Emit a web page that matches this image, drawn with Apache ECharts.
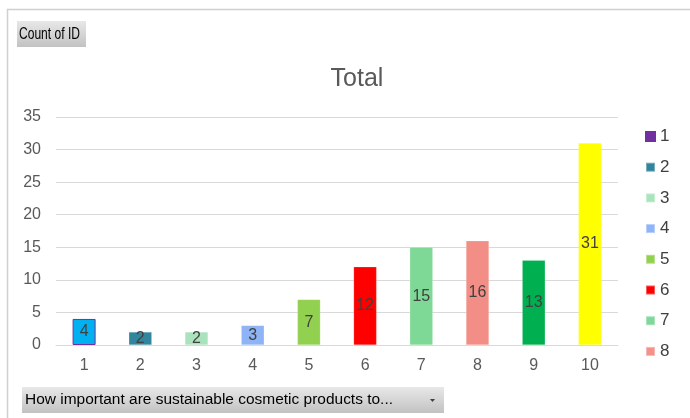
<!DOCTYPE html>
<html>
<head>
<meta charset="utf-8">
<script src="https://cdn.jsdelivr.net/npm/echarts@6/dist/echarts.min.js"></script>
<style>
  html, body { margin: 0; padding: 0; background: #ffffff; }
  #chart { width: 690px; height: 418px; }
</style>
</head>
<body>
<div id="chart"></div>
<script>
// Ratings 1-10 and how many responses gave each rating
const categories = ['1', '2', '3', '4', '5', '6', '7', '8', '9', '10'];
const counts = [4, 2, 2, 3, 7, 12, 15, 16, 13, 31];
const barColors = ['#00b0f0', '#31859c', '#a9e2bc', '#8eb4f5', '#92d050', '#ff0000', '#7ed896', '#f28e86', '#00b050', '#ffff00'];
const legendNames = ['1', '2', '3', '4', '5', '6', '7', '8'];
const legendColors = ['#7030a0', '#31849b', '#a9e4bc', '#8fb4f7', '#92d050', '#ff0000', '#7dd89a', '#f4928a'];
const yTicks = [0, 5, 10, 15, 20, 25, 30, 35];

const FONT = 'Liberation Sans, Arial, sans-serif';
const chart = echarts.init(document.getElementById('chart'), null, { renderer: 'canvas' });

// horizontal squeeze so a button caption fills a given width
function fitScale(text, font, width) {
  const ctx = document.createElement('canvas').getContext('2d');
  ctx.font = font;
  return width / ctx.measureText(text).width;
}

// one series per rating so each gets its own legend entry; stacking keeps bars centred
const series = categories.map((name, i) => ({
  name: name,
  type: 'bar',
  stack: 'all',
  barWidth: 23,
  data: categories.map((c, j) => (j === i ? counts[i] : null)),
  itemStyle: {
    color: barColors[i],
    borderColor: i === 0 ? '#7030a0' : 'rgba(255,255,255,0.35)',
    borderWidth: i === 0 ? 1 : 0.5
  },
  label: {
    show: true,
    position: 'inside',
    color: '#404040',
    fontFamily: FONT,
    fontSize: 16,
    formatter: p => (p.value == null ? '' : String(p.value))
  }
}));

const btnGradient = () => new echarts.graphic.LinearGradient(0, 0, 0, 1, [
  { offset: 0, color: '#e8e8e8' },
  { offset: 1, color: '#c2c2c2' }
]);

const topCaption = 'Count of ID';
const topFont = '17px "Liberation Sans", Arial, sans-serif';
const bottomCaption = 'How important are sustainable cosmetic products to...';
const bottomFont = '15.5px "Liberation Sans", Arial, sans-serif';

chart.setOption({
  backgroundColor: '#ffffff',
  animation: false,
  title: {
    text: 'Total',
    left: 352,
    textAlign: 'center',
    top: 62,
    textStyle: {
      color: '#595959',
      fontFamily: FONT,
      fontSize: 25,
      fontWeight: 'normal'
    }
  },
  legend: {
    orient: 'vertical',
    left: 645,
    top: 128,
    padding: 0,
    itemWidth: 9,
    itemHeight: 9,
    itemGap: 13.7,
    icon: 'rect',
    data: legendNames.map((n, i) => ({ name: n, itemStyle: { color: legendColors[i] } })),
    textStyle: {
      color: '#404040',
      fontFamily: FONT,
      fontSize: 17
    }
  },
  grid: { left: 56, right: 72, top: 117, bottom: 73, containLabel: false },
  xAxis: {
    type: 'category',
    data: categories,
    axisLine: { show: true, lineStyle: { color: '#d9d9d9', width: 1 } },
    axisTick: { show: false },
    axisLabel: {
      color: '#595959',
      fontFamily: FONT,
      fontSize: 16,
      margin: 13
    }
  },
  yAxis: {
    type: 'value',
    min: yTicks[0],
    max: yTicks[yTicks.length - 1],
    interval: 5,
    axisLine: { show: false },
    axisTick: { show: false },
    splitLine: { lineStyle: { color: '#d9d9d9', width: 1 } },
    axisLabel: {
      color: '#595959',
      fontFamily: FONT,
      fontSize: 16,
      margin: 15
    }
  },
  series: series,
  graphic: [
    // outer chart frame
    {
      type: 'polyline',
      silent: true,
      shape: { points: [[7.5, 418], [7.5, 9.5], [690, 9.5]] },
      style: { stroke: '#d0d0d0', lineWidth: 1.5, fill: null }
    },
    // field button: value field
    {
      type: 'rect',
      left: 17,
      top: 21,
      shape: { x: 0, y: 0, width: 69, height: 26 },
      style: { fill: btnGradient() }
    },
    {
      type: 'text',
      x: 19,
      y: 34,
      scaleX: fitScale(topCaption, topFont, 61),
      style: {
        text: topCaption, verticalAlign: 'middle',
        fill: '#000000', font: topFont
      }
    },
    // field button: axis field with dropdown
    {
      type: 'rect',
      left: 22,
      top: 387,
      shape: { x: 0, y: 0, width: 422, height: 26 },
      style: { fill: btnGradient() }
    },
    {
      type: 'text',
      x: 25,
      y: 400,
      scaleX: fitScale(bottomCaption, bottomFont, 368),
      style: {
        text: bottomCaption, verticalAlign: 'middle',
        fill: '#000000', font: bottomFont
      }
    },
    {
      type: 'polygon',
      shape: { points: [[430, 399], [435, 399], [432.5, 402]] },
      style: { fill: '#404040' }
    }
  ]
});
</script>
</body>
</html>
